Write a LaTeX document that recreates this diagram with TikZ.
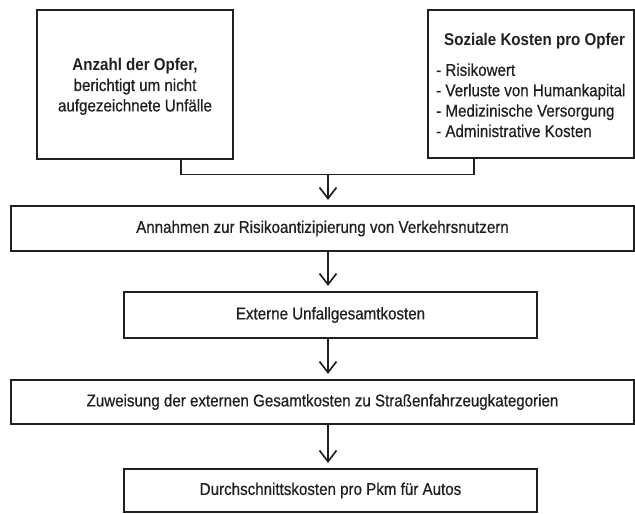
\documentclass[tikz,border=0pt]{standalone}
\usepackage{fontspec}
\setmainfont{Liberation Sans}[FakeStretch=0.89,UprightFeatures={FakeBold=0.6}]
\usetikzlibrary{arrows.meta}
\definecolor{ink}{HTML}{231F20}
\begin{document}
\begin{tikzpicture}[x=1pt,y=-1pt,
  font=\fontsize{17}{20.4}\selectfont,
  every node/.style={text=ink},
  box/.style={draw=ink,line width=2.2pt,fill=white,inner sep=0pt,
    rectangle,anchor=center,align=center},
  link/.style={draw=ink,line width=1.7pt},
  arr/.style={link,-{Straight Barb[length=11pt,width=17pt,line width=1.7pt]},shorten >=5pt}]
  \useasboundingbox (0,0) rectangle (635,514);

  % input boxes
  \node[box,minimum width=196pt,minimum height=149pt] (b1) at (135,84.5) {};
  \node[box,minimum width=206pt,minimum height=148pt] (b2) at (531,84) {};
  \node[align=center,inner sep=0pt] (t1) at (135,86.6)
    {\textbf{Anzahl der Opfer,}\\berichtigt um nicht\\aufgezeichnete Unfälle};
  \node[align=left,inner sep=0pt,anchor=west] (t2) at (436,85.2)
    {\hspace*{8pt}\textbf{Soziale Kosten pro Opfer}\\[9.9pt]
     - Risikowert\\- Verluste von Humankapital\\- Medizinische Versorgung\\- Administrative Kosten};

  % processing chain
  \node[box,minimum width=623pt,minimum height=45pt] (b3) at (322.5,228.5)
    {Annahmen zur Risikoantizipierung von Verkehrsnutzern};
  \node[box,minimum width=413pt,minimum height=46pt] (b4) at (330.5,315)
    {Externe Unfallgesamtkosten};
  \node[box,minimum width=623pt,minimum height=44pt] (b5) at (322.5,402)
    {Zuweisung der externen Gesamtkosten zu Straßenfahrzeugkategorien};
  \node[box,minimum width=413pt,minimum height=43pt] (b6) at (330.5,490.5)
    {Durchschnittskosten pro Pkm für Autos};

  % connectors
  \coordinate (j) at (328,174.5);
  \draw[link] ([xshift=46pt]b1.south) |- (j) -| ([xshift=-57pt]b2.south);
  \draw[arr] (j) -- (j |- b3.north);
  \draw[arr] (j |- b3.south) -- (j |- b4.north);
  \draw[arr] (j |- b4.south) -- (j |- b5.north);
  \draw[arr] (j |- b5.south) -- (j |- b6.north);
\end{tikzpicture}
\end{document}
